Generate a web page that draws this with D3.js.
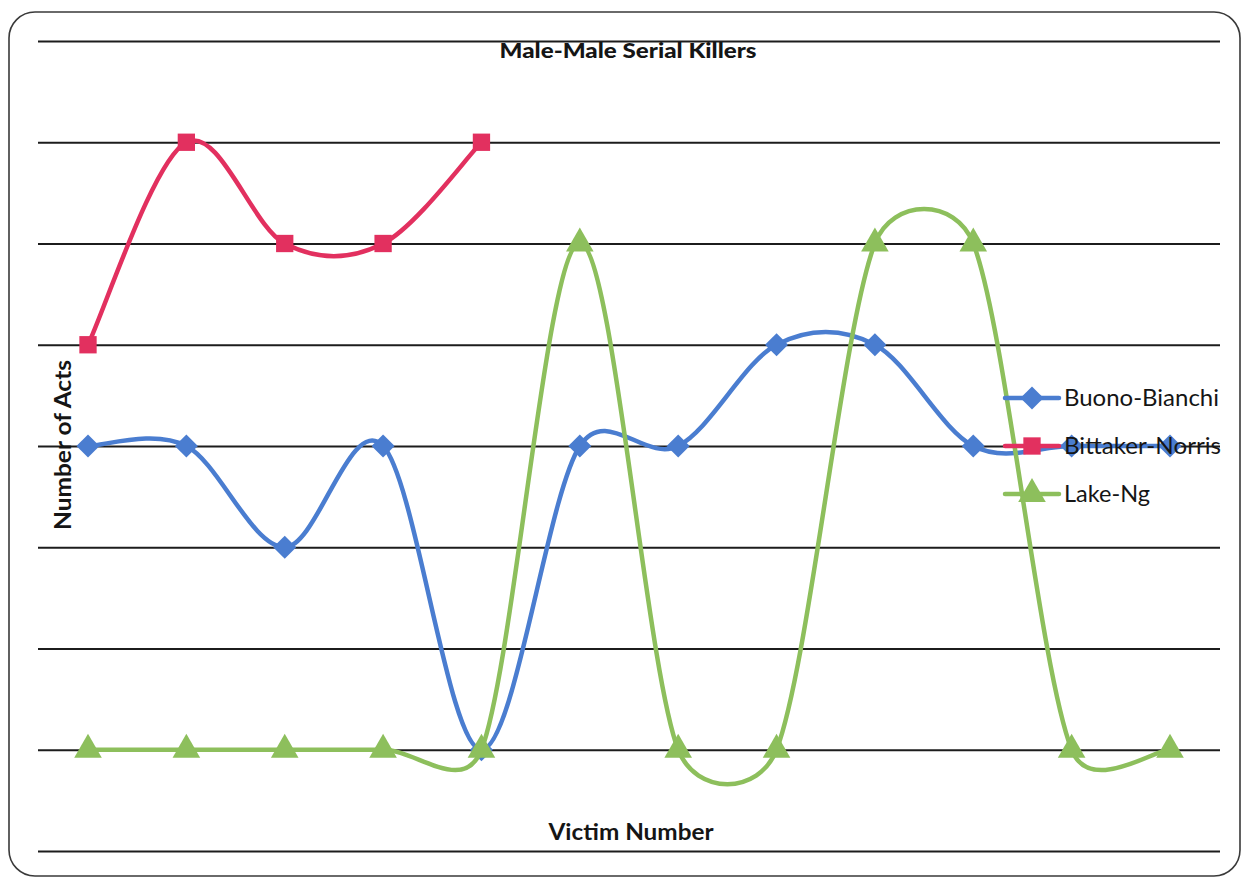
<!DOCTYPE html>
<html>
<head>
<meta charset="utf-8">
<script src="https://cdn.jsdelivr.net/npm/d3@7"></script>
<style>
  html, body { margin: 0; padding: 0; background: #fff; }
  svg { display: block; }
  text { font-family: Lato, "Open Sans", sans-serif; fill: #151515; }
</style>
</head>
<body>
<svg id="chart" width="1243" height="879"></svg>
<script>
// Victim numbers along the x axis
const victims = [1, 2, 3, 4, 5, 6, 7, 8, 9, 10, 11, 12];

// Number of acts per victim for each pair of killers
const buonoBianchi   = [4, 4, 3, 4, 1, 4, 4, 5, 5, 4, 4, 4];
const bittakerNorris = [5, 7, 6, 6, 7];
const lakeNg         = [1, 1, 1, 1, 1, 6, 1, 1, 6, 6, 1, 1];

// Value axis gridline positions (no labels shown)
const yTicks = [0, 1, 2, 3, 4, 5, 6, 7, 8];

const seriesNames = ["Buono-Bianchi", "Bittaker-Norris", "Lake-Ng"];
const seriesColors = ["#4A7DD0", "#E2305F", "#8DBF5C"];
const seriesShapes = [d3.symbolDiamond2, d3.symbolSquare, d3.symbolTriangle];
const seriesValues = [buonoBianchi, bittakerNorris, lakeNg];

const svg = d3.select("#chart");

// Chart area frame
svg.append("rect")
  .attr("x", 9).attr("y", 12)
  .attr("width", 1231).attr("height", 864)
  .attr("rx", 26).attr("ry", 26)
  .attr("fill", "#fff")
  .attr("stroke", "#3a3a3a")
  .attr("stroke-width", 1.6);

const x = d3.scaleLinear().domain([1, 12]).range([88, 1170]);
const y = d3.scaleLinear().domain([0, 8]).range([851, 41]);

// Horizontal gridlines
const grid = svg.append("g").attr("transform", "translate(1220,0)")
  .call(d3.axisLeft(y).tickValues(yTicks).tickSize(1220 - 38).tickFormat(""));
grid.select(".domain").remove();
grid.selectAll(".tick line").attr("stroke", "#1c1c1c").attr("stroke-width", 2.2);

// Smoothed line: cubic Bezier segments whose handles follow the neighbouring
// points (1/6 of the chord), capped at half the segment length.
function SmoothCurve(context) { this._context = context; }
SmoothCurve.prototype = {
  areaStart() { this._line = 0; },
  areaEnd() { this._line = NaN; },
  lineStart() { this._pts = []; },
  point(px, py) { this._pts.push([+px, +py]); },
  lineEnd() {
    const p = this._pts, n = p.length, c = this._context;
    if (!n) return;
    c.moveTo(p[0][0], p[0][1]);
    const handle = (pt, a, b, seg) => {
      let dx = (b[0] - a[0]) / 6, dy = (b[1] - a[1]) / 6;
      const len = Math.hypot(dx, dy), lim = seg * 0.5;
      if (len > lim) { dx *= lim / len; dy *= lim / len; }
      return [pt[0] + dx, pt[1] + dy];
    };
    for (let i = 0; i < n - 1; i++) {
      const p0 = p[Math.max(i - 1, 0)], p1 = p[i], p2 = p[i + 1], p3 = p[Math.min(i + 2, n - 1)];
      const seg = Math.hypot(p2[0] - p1[0], p2[1] - p1[1]);
      const c1 = handle(p1, p0, p2, seg);
      const c2 = handle(p2, p3, p1, seg);
      c.bezierCurveTo(c1[0], c1[1], c2[0], c2[1], p2[0], p2[1]);
    }
  }
};
const curveSmooth = ctx => new SmoothCurve(ctx);

const line = d3.line()
  .x(d => x(d.v))
  .y(d => y(d.n))
  .curve(curveSmooth);

const markerSizes = [340, 300, 330];

seriesValues.forEach((vals, si) => {
  const pts = vals.map((n, i) => ({ v: victims[i], n }));
  const g = svg.append("g");
  g.append("path")
    .attr("d", line(pts))
    .attr("fill", "none")
    .attr("stroke", seriesColors[si])
    .attr("stroke-width", 4.5)
    .attr("stroke-linecap", "round");
  g.selectAll("path.m").data(pts).join("path")
    .attr("class", "m")
    .attr("transform", d => `translate(${x(d.v)},${y(d.n)})`)
    .attr("d", d3.symbol().type(seriesShapes[si]).size(markerSizes[si]))
    .attr("fill", seriesColors[si]);
});

// Title and axis titles
svg.append("text")
  .attr("x", 628).attr("y", 58)
  .attr("text-anchor", "middle")
  .attr("font-weight", "900").attr("font-size", 21)
  .attr("textLength", 257).attr("lengthAdjust", "spacingAndGlyphs")
  .text("Male-Male Serial Killers");

svg.append("text")
  .attr("transform", "translate(71,445) rotate(-90)")
  .attr("text-anchor", "middle")
  .attr("font-weight", "bold").attr("font-size", 23)
  .attr("textLength", 170).attr("lengthAdjust", "spacingAndGlyphs")
  .text("Number of Acts");

svg.append("text")
  .attr("x", 631).attr("y", 840)
  .attr("text-anchor", "middle")
  .attr("font-weight", "bold").attr("font-size", 22)
  .attr("textLength", 165).attr("lengthAdjust", "spacingAndGlyphs")
  .text("Victim Number");

// Legend
const legendY = [398, 446, 494];
const legendTextW = [155, 157, 86];
const legend = svg.append("g");
seriesNames.forEach((name, si) => {
  const ly = legendY[si];
  legend.append("line")
    .attr("x1", 1005).attr("x2", 1059)
    .attr("y1", ly).attr("y2", ly)
    .attr("stroke", seriesColors[si]).attr("stroke-width", 4.5)
    .attr("stroke-linecap", "round");
  legend.append("path")
    .attr("transform", `translate(1032,${ly})`)
    .attr("d", d3.symbol().type(seriesShapes[si]).size(markerSizes[si]))
    .attr("fill", seriesColors[si]);
  legend.append("text")
    .attr("x", 1064).attr("y", ly + 8)
    .attr("font-size", 23)
    .attr("textLength", legendTextW[si]).attr("lengthAdjust", "spacingAndGlyphs")
    .text(name);
});
</script>
</body>
</html>
